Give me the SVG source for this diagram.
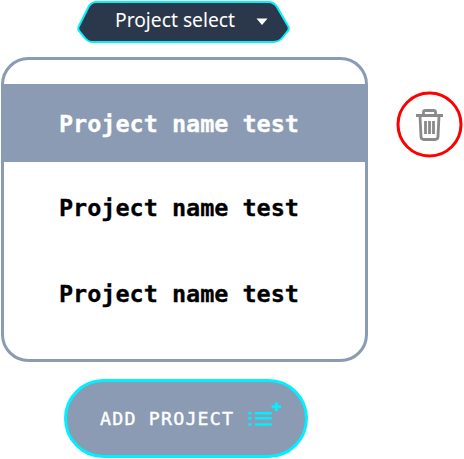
<svg xmlns="http://www.w3.org/2000/svg" width="464" height="459" viewBox="0 0 464 459">
<style>
.pn{font-family:"DejaVu Sans Mono","Liberation Mono",monospace;font-weight:700;font-size:23.5px}
.ic{fill:none;stroke:#8a8a8a;stroke-width:2.8}
</style>
<rect width="464" height="459" fill="#fff"/>
<g id="project-select">
<path d="M96 2H268Q274 2 277 7L288 26Q290 29 287 32L283 37Q279 42 273 42H93Q88 42 85 38L80 32Q77 29 79 26L88 8Q91 2 96 2Z" fill="#2b384b" stroke="#00f0ff" stroke-width="2"/>
<text x="115" y="27.300" font-family="'Noto Sans','Open Sans',sans-serif" font-size="19px" fill="#fff" textLength="120" lengthAdjust="spacingAndGlyphs">Project select</text>
<path d="M256.500 18.500H267.500L262 25Z" fill="#fff"/>
</g>
<g id="project-list">
<rect x="2.500" y="58.500" width="364" height="302" rx="26" fill="#fff" stroke="#8b9bb4" stroke-width="3"/>
<rect x="2" y="84" width="365" height="78" fill="#8b9bb4"/>
<text class="pn" x="59" y="132" fill="#fff" stroke="#fff" stroke-width=".3" textLength="240">Project name test</text>
<text class="pn" x="59" y="216" fill="#000" stroke="#000" stroke-width=".3" textLength="240">Project name test</text>
<text class="pn" x="59" y="302" fill="#000" stroke="#000" stroke-width=".3" textLength="240">Project name test</text>
</g>
<g id="delete-button">
<circle cx="429.500" cy="124.500" r="31.500" fill="#fff" stroke="#f00" stroke-width="3"/>
<path class="ic" d="M416 115.500H443M423.500 115V112Q423.500 110.500 425.500 110.500H433.500Q435.500 110.500 435.500 112V115M420 116L421 136.500Q421 139.500 424 139.500H435Q438 139.500 438 136.500L439 116M425.500 121V134M429.500 121V134M433.500 121V134"/>
</g>
<g id="add-project">
<rect x="65.500" y="380.500" width="241" height="76" rx="38" fill="#8b9bb4" stroke="#00f0ff" stroke-width="3"/>
<text x="100" y="425" font-family="'DejaVu Sans Mono','Liberation Mono',monospace" font-size="18.300px" fill="#fff" stroke="#fff" stroke-width=".4" textLength="133">ADD PROJECT</text>
<path d="M248.300 413.300H251.500M248.300 418.300H251.500M248.300 424.500H251.500M255 413.300H271.700M255 418.300H271.700M255 424.500H271.700" fill="none" stroke="#00f0ff" stroke-width="2.600"/>
<path d="M271.700 406.800H281M276.300 402.500V411" fill="none" stroke="#00f0ff" stroke-width="3"/>
</g>
<g id="connectors"></g>
</svg>
